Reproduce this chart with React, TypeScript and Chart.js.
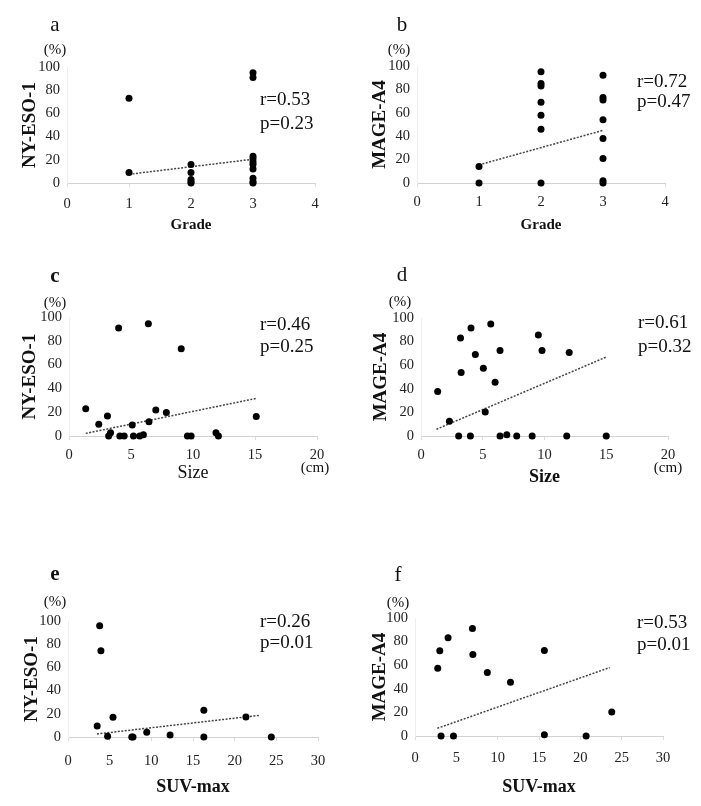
import React, { useEffect, useRef } from "react";
import { Chart, registerables } from "chart.js";

Chart.register(...registerables);

// ---------------- data ----------------
const gradeTicks = [0, 1, 2, 3, 4];
const sizeTicks = [0, 5, 10, 15, 20];
const suvTicks = [0, 5, 10, 15, 20, 25, 30];
const percentTicks = [0, 20, 40, 60, 80, 100];

// a: NY-ESO-1 vs Grade
const gradeNyX = [1, 1, 2, 2, 2, 2, 2, 3, 3, 3, 3, 3, 3, 3, 3, 3, 3];
const gradeNyY = [73, 9, 16, 9, 3, 1, 0, 95, 91, 23, 21, 18, 16, 12, 4, 1, 0];
const gradeNyFitX = [1, 3];
const gradeNyFitY = [7.5, 20.5];
const gradeNyStats = ["r=0.53", "p=0.23"];

// b: MAGE-A4 vs Grade
const gradeMageX = [1, 1, 2, 2, 2, 2, 2, 2, 2, 3, 3, 3, 3, 3, 3, 3, 3];
const gradeMageY = [14, 0, 95, 85, 83, 69, 58, 46, 0, 92, 73, 71, 54, 38, 21, 2, 0];
const gradeMageFitX = [1, 3];
const gradeMageFitY = [15.5, 45];
const gradeMageStats = ["r=0.72", "p=0.47"];

// c: NY-ESO-1 vs Size
const sizeNyX = [1.35, 2.4, 3.1, 3.2, 3.35, 4.0, 4.1, 4.45, 5.1, 5.2, 5.7, 6.0, 6.4, 6.45, 7.0, 7.85, 9.05, 9.55, 9.85, 11.85, 12.05, 15.1];
const sizeNyY = [22.8, 9.8, 16.9, 0, 2.8, 90.7, 0, 0, 9.3, 0, 0, 1, 94.4, 12, 21.9, 19.7, 73.3, 0, 0, 2.8, 0, 16.3];
const sizeNyFitX = [1.35, 15.15];
const sizeNyFitY = [2.2, 31.7];
const sizeNyStats = ["r=0.46", "p=0.25"];

// d: MAGE-A4 vs Size
const sizeMageX = [1.35, 2.3, 3.05, 3.2, 3.25, 4.0, 4.05, 4.4, 5.05, 5.2, 5.65, 6.0, 6.4, 6.4, 6.95, 7.75, 9.0, 9.5, 9.8, 11.8, 12.0, 15.0];
const sizeMageY = [37.7, 12.5, 0, 83, 53.8, 0, 91.5, 69.1, 57.5, 20.4, 94.9, 45.6, 72.5, 0, 1.1, 0, 0, 85.5, 72.5, 0, 70.8, 0];
const sizeMageFitX = [1.25, 15.0];
const sizeMageFitY = [5.7, 66.9];
const sizeMageStats = ["r=0.61", "p=0.32"];

// e: NY-ESO-1 vs SUV-max
const suvNyX = [3.5, 3.8, 3.95, 4.75, 5.4, 7.65, 7.8, 9.45, 12.25, 16.3, 16.3, 21.35, 24.4];
const suvNyY = [9.5, 96, 74.4, 0.6, 17, 0, 0, 4, 1.7, 23, 0, 17.3, 0];
const suvNyFitX = [3.47, 23.0];
const suvNyFitY = [2.6, 18.7];
const suvNyStats = ["r=0.26", "p=0.01"];

// f: MAGE-A4 vs SUV-max
const suvMageX = [2.75, 3.0, 3.15, 4.0, 4.65, 6.95, 7.0, 8.75, 11.55, 15.65, 15.65, 20.7, 23.8];
const suvMageY = [57.5, 72.2, 0, 83.3, 0, 91.2, 69.1, 53.8, 45.6, 72.5, 1.1, 0, 20.4];
const suvMageFitX = [2.7, 23.55];
const suvMageFitY = [6.5, 58];
const suvMageStats = ["r=0.53", "p=0.01"];

// ---------------- layout ----------------
type Spec = {
  key: string;
  canvas: { x: number; y: number; w: number; h: number };
  plot: { l: number; r: number; t: number; b: number };
  xs: number[];
  ys: number[];
  fitX: number[];
  fitY: number[];
  xTicks: number[];
  yLabel: string;
  xLabel: string;
  xLabelBold: boolean;
  xLabelSize: number;
  yTitleX: number;
  xTitleY: number;
  xTickPad: number;
  letter: string;
  letterPos: [number, number];
  letterBold: boolean;
  pctPos: [number, number];
  stats: string[];
  statsPos: [number, number, number];
  cmPos?: [number, number];
};

const SERIF = '"Liberation Serif", "Times New Roman", Times, serif';

const specs: Spec[] = [
  {
    key: "a",
    canvas: { x: 0, y: 0, w: 350, h: 250 },
    plot: { l: 67, r: 315, t: 67, b: 183 },
    xs: gradeNyX, ys: gradeNyY, fitX: gradeNyFitX, fitY: gradeNyFitY,
    xTicks: gradeTicks, yLabel: "NY-ESO-1", xLabel: "Grade", xLabelBold: true, xLabelSize: 15,
    yTitleX: 30, xTitleY: 225, xTickPad: 8,
    letter: "a", letterPos: [55, 25], letterBold: false, pctPos: [55, 50],
    stats: gradeNyStats, statsPos: [260, 100, 124],
  },
  {
    key: "b",
    canvas: { x: 350, y: 0, w: 351, h: 250 },
    plot: { l: 417, r: 665, t: 66, b: 183 },
    xs: gradeMageX, ys: gradeMageY, fitX: gradeMageFitX, fitY: gradeMageFitY,
    xTicks: gradeTicks, yLabel: "MAGE-A4", xLabel: "Grade", xLabelBold: true, xLabelSize: 15,
    yTitleX: 380, xTitleY: 225, xTickPad: 6,
    letter: "b", letterPos: [402, 25], letterBold: false, pctPos: [399, 50],
    stats: gradeMageStats, statsPos: [637, 82, 102],
  },
  {
    key: "c",
    canvas: { x: 0, y: 255, w: 350, h: 250 },
    plot: { l: 69, r: 317, t: 317, b: 436 },
    xs: sizeNyX, ys: sizeNyY, fitX: sizeNyFitX, fitY: sizeNyFitY,
    xTicks: sizeTicks, yLabel: "NY-ESO-1", xLabel: "Size", xLabelBold: false, xLabelSize: 18,
    yTitleX: 30, xTitleY: 473, xTickPad: 6,
    letter: "c", letterPos: [55, 277], letterBold: true, pctPos: [55, 303],
    stats: sizeNyStats, statsPos: [260, 325, 347], cmPos: [315, 468],
  },
  {
    key: "d",
    canvas: { x: 350, y: 255, w: 351, h: 250 },
    plot: { l: 421, r: 668, t: 318, b: 436 },
    xs: sizeMageX, ys: sizeMageY, fitX: sizeMageFitX, fitY: sizeMageFitY,
    xTicks: sizeTicks, yLabel: "MAGE-A4", xLabel: "Size", xLabelBold: true, xLabelSize: 18,
    yTitleX: 381, xTitleY: 477, xTickPad: 6,
    letter: "d", letterPos: [402, 275], letterBold: false, pctPos: [400, 302],
    stats: sizeMageStats, statsPos: [638, 323, 347], cmPos: [668, 468],
  },
  {
    key: "e",
    canvas: { x: 0, y: 555, w: 350, h: 251 },
    plot: { l: 68, r: 318, t: 621, b: 737 },
    xs: suvNyX, ys: suvNyY, fitX: suvNyFitX, fitY: suvNyFitY,
    xTicks: suvTicks, yLabel: "NY-ESO-1", xLabel: "SUV-max", xLabelBold: true, xLabelSize: 18,
    yTitleX: 32, xTitleY: 787, xTickPad: 11,
    letter: "e", letterPos: [55, 575], letterBold: true, pctPos: [55, 602],
    stats: suvNyStats, statsPos: [260, 622, 643],
  },
  {
    key: "f",
    canvas: { x: 350, y: 555, w: 351, h: 251 },
    plot: { l: 415, r: 663, t: 618, b: 736 },
    xs: suvMageX, ys: suvMageY, fitX: suvMageFitX, fitY: suvMageFitY,
    xTicks: suvTicks, yLabel: "MAGE-A4", xLabel: "SUV-max", xLabelBold: true, xLabelSize: 18,
    yTitleX: 380, xTitleY: 787, xTickPad: 9,
    letter: "f", letterPos: [398, 575], letterBold: false, pctPos: [398, 603],
    stats: suvMageStats, statsPos: [637, 623, 645],
  },
];

function Panel({ spec }: { spec: Spec }) {
  const ref = useRef<HTMLCanvasElement | null>(null);

  useEffect(() => {
    const s = spec;
    const c = s.canvas;
    const p = s.plot;
    const ySize = 19;
    const yLH = ySize * 1.2;
    const xLH = s.xLabelSize * 1.2;
    const tickLen = 4;

    const textPlugin = {
      id: "panelText",
      afterDraw(chart: any) {
        const ctx = chart.ctx as CanvasRenderingContext2D;
        ctx.save();
        ctx.fillStyle = "#111";
        ctx.textBaseline = "middle";
        ctx.textAlign = "center";
        ctx.font = `${s.letterBold ? "bold " : ""}21px ${SERIF}`;
        ctx.fillText(s.letter, s.letterPos[0] - c.x, s.letterPos[1] - c.y);
        ctx.font = `15px ${SERIF}`;
        ctx.fillText("(%)", s.pctPos[0] - c.x, s.pctPos[1] - c.y);
        if (s.cmPos) {
          ctx.fillText("(cm)", s.cmPos[0] - c.x, s.cmPos[1] - c.y);
        }
        ctx.textAlign = "left";
        ctx.font = `19px ${SERIF}`;
        ctx.fillText(s.stats[0], s.statsPos[0] - c.x, s.statsPos[1] - c.y);
        ctx.fillText(s.stats[1], s.statsPos[0] - c.x, s.statsPos[2] - c.y);
        ctx.restore();
      },
    };

    const chart = new Chart(ref.current as HTMLCanvasElement, {
      type: "scatter",
      data: {
        datasets: [
          {
            type: "line",
            data: s.fitX.map((x, i) => ({ x, y: s.fitY[i] })),
            borderColor: "#444",
            borderWidth: 1.5,
            borderDash: [2, 1.5],
            pointRadius: 0,
            fill: false,
            clip: false,
            order: 2,
          } as any,
          {
            data: s.xs.map((x, i) => ({ x, y: s.ys[i] })),
            pointBackgroundColor: "#000",
            pointBorderWidth: 0,
            pointRadius: 3.5,
            clip: false,
            order: 1,
          } as any,
        ],
      },
      options: {
        responsive: false,
        animation: false,
        events: [],
        layout: {
          padding: {
            left: 0,
            top: p.t - c.y,
            right: c.x + c.w - p.r,
            bottom: 0,
          },
        },
        plugins: {
          legend: { display: false },
          tooltip: { enabled: false },
        },
        scales: {
          x: {
            type: "linear",
            min: s.xTicks[0],
            max: s.xTicks[s.xTicks.length - 1],
            afterBuildTicks: (scale: any) => {
              scale.ticks = s.xTicks.map((v) => ({ value: v }));
            },
            afterFit: (scale: any) => {
              scale.height = c.y + c.h - p.b;
            },
            ticks: {
              autoSkip: false,
              maxRotation: 0,
              padding: s.xTickPad,
              color: "#222",
              font: { family: SERIF, size: 14.5 },
            },
            grid: {
              display: true,
              drawOnChartArea: false,
              drawTicks: true,
              tickLength: tickLen,
              color: "#dcdcdc",
            },
            border: { display: true, color: "#d2d2d2", width: 1 },
            title: {
              display: true,
              text: s.xLabel,
              color: "#111",
              font: { family: SERIF, size: s.xLabelSize, weight: s.xLabelBold ? "bold" : "normal" },
              padding: { top: 0, bottom: c.y + c.h - s.xTitleY - xLH / 2 },
            },
          },
          y: {
            type: "linear",
            min: percentTicks[0],
            max: percentTicks[percentTicks.length - 1],
            afterBuildTicks: (scale: any) => {
              scale.ticks = percentTicks.map((v) => ({ value: v }));
            },
            afterFit: (scale: any) => {
              scale.width = p.l - c.x;
            },
            ticks: {
              autoSkip: false,
              padding: 7,
              color: "#222",
              font: { family: SERIF, size: 14.5 },
            },
            grid: { display: false, drawTicks: false },
            border: { display: true, color: "#eeeeee", width: 1 },
            title: {
              display: true,
              text: s.yLabel,
              color: "#111",
              font: { family: SERIF, size: ySize, weight: "bold" },
              padding: { top: s.yTitleX - c.x - yLH / 2, bottom: 0 },
            },
          },
        },
      } as any,
      plugins: [textPlugin],
    });

    return () => {
      chart.destroy();
    };
  }, [spec]);

  return (
    <canvas
      ref={ref}
      width={spec.canvas.w}
      height={spec.canvas.h}
      style={{ position: "absolute", left: spec.canvas.x, top: spec.canvas.y }}
    />
  );
}

export default function App() {
  return (
    <div
      style={{
        position: "absolute",
        left: 0,
        top: 0,
        width: 701,
        height: 806,
        background: "#fff",
        overflow: "hidden",
      }}
    >
      {specs.map((s) => (
        <Panel key={s.key} spec={s} />
      ))}
    </div>
  );
}
